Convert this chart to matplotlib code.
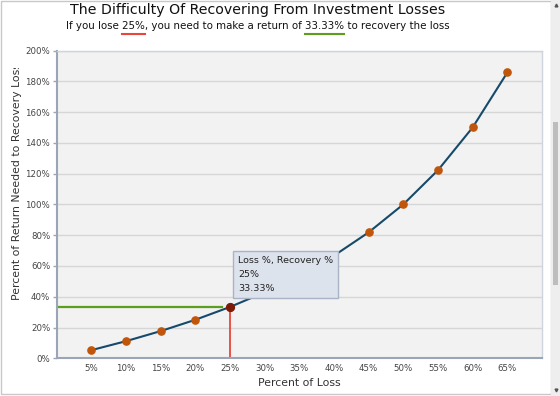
import numpy as np
import matplotlib
matplotlib.use("Agg")
import matplotlib.pyplot as plt
from matplotlib.patches import Rectangle
from matplotlib.lines import Line2D
from matplotlib.transforms import Bbox
from matplotlib.ticker import FuncFormatter

# --- data ---
loss_pct = [5, 10, 15, 20, 25, 30, 35, 40, 45, 50, 55, 60, 65]
recovery_pct = [5.26, 11.11, 17.65, 25.0, 33.33, 42.86, 53.85, 66.67, 81.82, 100.0, 122.22, 150.0, 185.71]
hl_loss = 25
hl_recovery = 33.33
title = "The Difficulty Of Recovering From Investment Losses"
sub_a, sub_b, sub_c, sub_d, sub_e = "If you lose ", "25%", ", you need to make a return of ", "33.33%", " to recovery the loss"

W, H = 560, 396
fig = plt.figure(figsize=(W / 100, H / 100), dpi=100)
fig.patch.set_facecolor("white")

def px(x0, y0, x1, y1):
    # pixel box (top-left origin) -> figure fraction rect
    return [x0 / W, 1 - y1 / H, (x1 - x0) / W, (y1 - y0) / H]

ax = fig.add_axes(px(56.5, 50.5, 542, 358.3))
ax.set_facecolor("#f2f2f2")
ax.set_xlim(0, 70)
ax.set_ylim(0, 200)
ax.set_xticks(loss_pct)
ax.set_yticks(np.arange(0, 201, 20))
ax.xaxis.set_major_formatter(FuncFormatter(lambda v, p: f"{v:.0f}%"))
ax.yaxis.set_major_formatter(FuncFormatter(lambda v, p: f"{v:.0f}%"))
ax.tick_params(axis="x", length=0, pad=4, labelsize=6.2, labelcolor="#444444")
ax.tick_params(axis="y", length=3, width=1, color="#9aa6b8", pad=1.5, labelsize=6.2, labelcolor="#444444")
ax.grid(axis="y", color="#d6d6d6", lw=1)
ax.set_axisbelow(True)
for s in ["left", "bottom"]:
    ax.spines[s].set_color("#9aa6b8")
    ax.spines[s].set_linewidth(1.5)
for s in ["top", "right"]:
    ax.spines[s].set_color("#cdd4de")
    ax.spines[s].set_linewidth(1)

# guide lines
ax.plot([0, 23.8], [hl_recovery, hl_recovery], color="#5c9e1e", lw=1.6, zorder=2)
ax.plot([hl_loss, hl_loss], [0, 31], color="#e8463c", lw=1.3, zorder=2)

ax.plot(loss_pct, recovery_pct, color="#174a6a", lw=1.5, marker="o", ms=5.2,
        mfc="#c0560c", mec="#c0560c", zorder=3)
ax.plot([hl_loss], [hl_recovery], "o", ms=5.6, color="#7c1c08", zorder=4)

# tooltip
tip = ax.annotate("Loss %, Recovery %\n25%\n33.33%", xy=(hl_loss, hl_recovery),
                  xytext=(8, 51), textcoords="offset pixels", ha="left", va="top",
                  fontsize=6.8, color="#222222", linespacing=1.7, zorder=6,
                  bbox=dict(boxstyle="square,pad=0.5", fc="#dde3ec", ec="#a8b4c6", lw=1))

# x / y labels
fig.text(299.5 / W, 1 - 383 / H, "Percent of Loss", ha="center", va="center",
         fontsize=7.8, color="#333333")
yl = fig.text(16.7 / W, 1 - 300 / H, "Percent of Return Needed to Recovery Loss",
              rotation=90, ha="center", va="bottom", fontsize=7.8, color="#333333")
yl.set_clip_box(Bbox.from_extents(0, 0, 40, H - 68))
yl.set_clip_on(True)

# title + subtitle with underlines
cx = 258 / W
fig.text(cx, 1 - 10 / H, title, ha="center", va="center", fontsize=10.2, color="#111111")
full = sub_a + sub_b + sub_c + sub_d + sub_e
sub_fs = 7.4
st = fig.text(cx, 1 - 26 / H, full, ha="center", va="center", fontsize=sub_fs, color="#111111")
r = fig.canvas.get_renderer()
x0 = st.get_window_extent(r).x0

def width_of(s):
    t = fig.text(0, 0, s, fontsize=sub_fs)
    w = t.get_window_extent(r).width
    t.remove()
    return w

for pre, word, col in [(sub_a, sub_b, "#e8463c"), (sub_a + sub_b + sub_c, sub_d, "#5c9e1e")]:
    a = x0 + width_of(pre + "x") - width_of("x")
    b = a + width_of(word)
    fig.add_artist(Line2D([a / W, b / W], [1 - 33.8 / H] * 2, color=col, lw=1.5,
                          transform=fig.transFigure))

# window border + scrollbar
fig.add_artist(Rectangle((0.5 / W, 1 - 394 / H), 550 / W, 393.5 / H, transform=fig.transFigure,
                         fill=False, ec="#c8c8c8", lw=1))
fig.add_artist(Rectangle((551 / W, 0), 9 / W, 1, transform=fig.transFigure,
                         fc="#eeeeee", ec="none"))
p = px(553, 122, 558, 285)
fig.add_artist(Rectangle((p[0], p[1]), p[2], p[3], transform=fig.transFigure,
                         fc="#bdbdbd", ec="none"))
fig.add_artist(Line2D([555.5 / W], [1 - 5 / H], marker="^", ms=2, color="#555555",
                      transform=fig.transFigure))
fig.add_artist(Line2D([555.5 / W], [1 - 390 / H], marker="v", ms=2, color="#555555",
                      transform=fig.transFigure))

fig.savefig("out.png", dpi=100)
